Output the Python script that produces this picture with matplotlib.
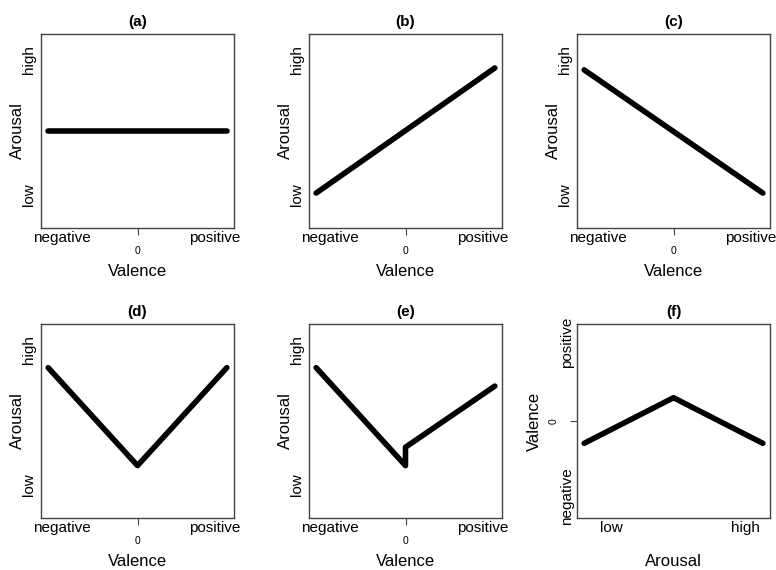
import matplotlib
matplotlib.use('Agg')
import matplotlib.pyplot as plt

plt.rcParams['font.family'] = ['Liberation Sans', 'DejaVu Sans']

# panel titles
titles = ['(a)', '(b)', '(c)', '(d)', '(e)', '(f)']

# valence (x) positions for panels a-e, arousal (x) for panel f
x_a = [-1, 1]
x_b = [-1, 1]
x_c = [-1, 1]
x_d = [-1, 0, 1]
x_e = [-1, 0, 0, 1]
x_f = [-1, 0, 1]

# arousal (y) for panels a-e, valence (y) for panel f
y_a = [0, 0]
y_b = [-0.64, 0.65]
y_c = [0.63, -0.64]
y_d = [0.55, -0.46, 0.55]
y_e = [0.55, -0.46, -0.27, 0.36]
y_f = [-0.23, 0.24, -0.23]

# category labels on the axes
val_labels = ['negative', 'positive']
val_label_pos = [-0.85, 0.86]
aro_labels = ['low', 'high']
aro_label_pos_y = [-0.66, 0.74]   # arousal on the y axis (a-e)
aro_label_pos_x = [-0.70, 0.80]   # arousal on the x axis (f)
val_label_pos_y = [-0.77, 0.81]   # valence on the y axis (f)

xs = [x_a, x_b, x_c, x_d, x_e, x_f]
ys = [y_a, y_b, y_c, y_d, y_e, y_f]

fig = plt.figure(figsize=(7.76, 5.70), dpi=100)

lefts = [41 / 776, 309 / 776, 577 / 776]
bottoms = [1 - 228 / 570, 1 - 518 / 570]
w = 193 / 776
h = 194 / 570

for i in range(6):
    row, col = divmod(i, 3)
    ax = fig.add_axes([lefts[col], bottoms[row], w, h])
    ax.plot(xs[i], ys[i], color='black', lw=4, solid_capstyle='round',
            solid_joinstyle='round')
    ax.set_xlim(-1.08, 1.08)
    ax.set_ylim(-1, 1)
    for sp in ax.spines.values():
        sp.set_color('#444444')
        sp.set_linewidth(1)
    ax.set_title(titles[i], fontsize=11, fontweight='bold', pad=6)
    ax.tick_params(direction='out', length=5, width=0.8, color='#444444',
                   labelsize=7.5, pad=8)

    if i < 5:
        ax.set_xticks([0])
        ax.set_xticklabels(['0'])
        ax.set_yticks([])
        for lab, xp in zip(val_labels, val_label_pos):
            ax.annotate(lab, xy=(xp, 0), xycoords=('data', 'axes fraction'),
                        xytext=(0, -7.5), textcoords='offset points',
                        ha='center', va='center', fontsize=11)
        for lab, yp in zip(aro_labels, aro_label_pos_y):
            ax.annotate(lab, xy=(0, yp), xycoords=('axes fraction', 'data'),
                        xytext=(-8.5, 0), textcoords='offset points',
                        ha='center', va='center', rotation=90, fontsize=11)
        ax.set_xlabel('Valence', fontsize=12)
        ax.set_ylabel('Arousal', fontsize=12)
        ax.yaxis.set_label_coords(-0.12, 0.5)
    else:
        ax.set_xticks([])
        ax.set_yticks([0])
        ax.set_yticklabels(['0'], rotation=90, va='center')
        for lab, xp in zip(aro_labels, aro_label_pos_x):
            ax.annotate(lab, xy=(xp, 0), xycoords=('data', 'axes fraction'),
                        xytext=(0, -7.5), textcoords='offset points',
                        ha='center', va='center', fontsize=11)
        for lab, yp in zip(val_labels, val_label_pos_y):
            ax.annotate(lab, xy=(0, yp), xycoords=('axes fraction', 'data'),
                        xytext=(-7.5, 0), textcoords='offset points',
                        ha='center', va='center', rotation=90, fontsize=11)
        ax.set_xlabel('Arousal', fontsize=12)
        ax.set_ylabel('Valence', fontsize=12)
        ax.yaxis.set_label_coords(-0.22, 0.5)

    ax.xaxis.set_label_coords(0.5, -0.225)
    ax.xaxis.label.set_va('center')
    ax.yaxis.label.set_va('center')

fig.savefig('out.png', dpi=100)
